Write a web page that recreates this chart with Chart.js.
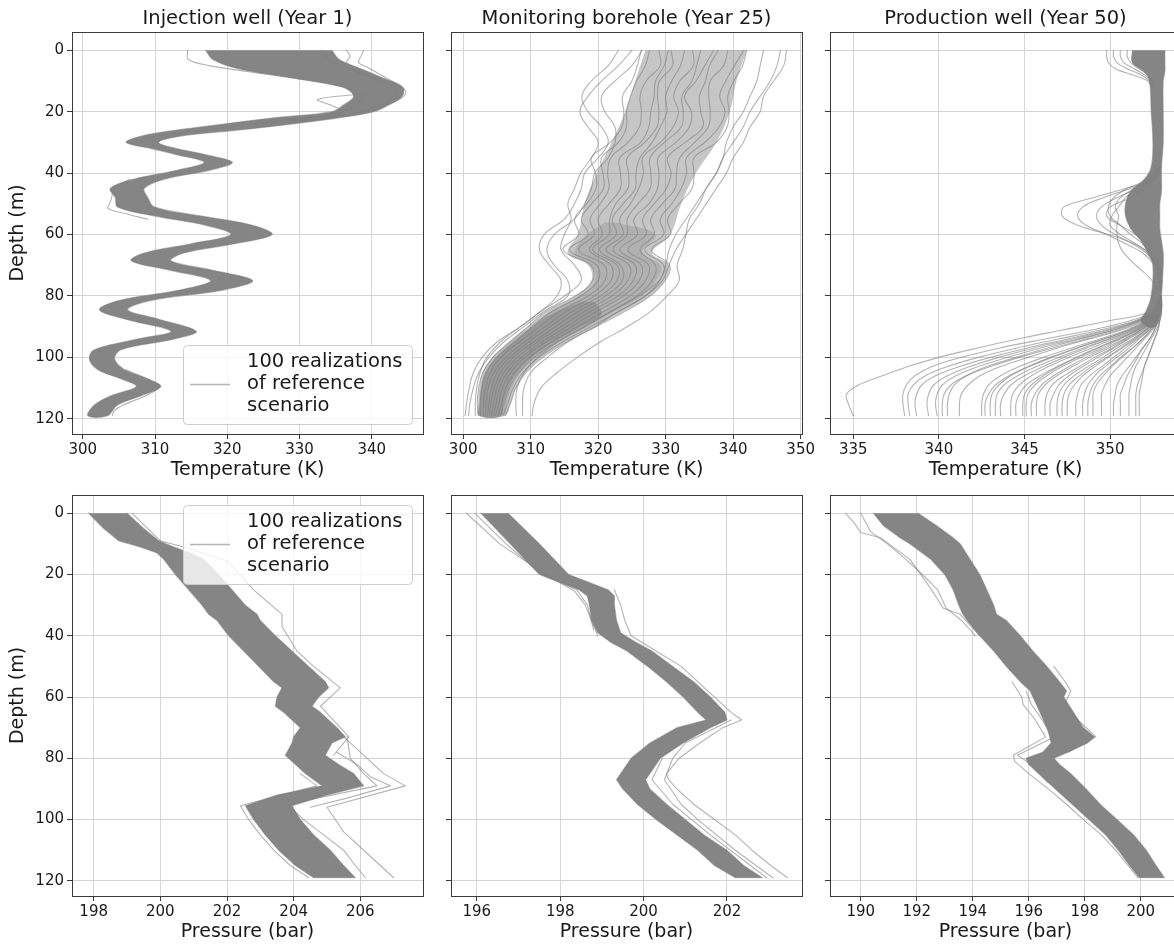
<!DOCTYPE html>
<html>
<head>
<meta charset="utf-8">
<script src="https://cdn.jsdelivr.net/npm/chart.js@4.4.1/dist/chart.umd.min.js"></script>
<style>
  html, body { margin: 0; padding: 0; background: #fff; overflow: hidden; }
  #fig { position: relative; width: 1174px; height: 945px; overflow: hidden; background: #fff; }
  #fig canvas { position: absolute; }
</style>
</head>
<body>
<div id="fig">
  <canvas id="tInj"></canvas>
  <canvas id="tMon"></canvas>
  <canvas id="tProd"></canvas>
  <canvas id="pInj"></canvas>
  <canvas id="pMon"></canvas>
  <canvas id="pProd"></canvas>
</div>
<script>
// ---------- tick labels ----------
const depthTicks = [0, 20, 40, 60, 80, 100, 120];
const tempTicksInj = [300, 310, 320, 330, 340];
const tempTicksMon = [300, 310, 320, 330, 340, 350];
const tempTicksProd = [335, 340, 345, 350];
const presTicksInj = [198, 200, 202, 204, 206];
const presTicksMon = [196, 198, 200, 202];
const presTicksProd = [190, 192, 194, 196, 198, 200];
const legendText = ['100 realizations', 'of reference', 'scenario'];

// ---------- injection well, temperature (year 1) ----------
// dense band of the realizations: depth, left edge, right edge
const bandDepthT1 = [0, 3, 6, 9, 12, 15, 18, 20, 22, 24, 26, 28, 30, 32, 34, 36.5, 39, 42, 45, 48, 51, 54, 57, 60, 63, 66, 68.5, 71.5, 75, 78, 81.5, 84.5, 87.5, 91.5, 94, 97.5, 100.5, 104, 107, 109.5, 112.5, 115.5, 119];
const bandLeftT1 = [317, 318, 321.5, 329, 336, 337.5, 336, 334.5, 326.5, 319.5, 313, 308, 306, 309.5, 313, 316.8, 313.2, 307, 303.8, 304.5, 304.8, 310, 317, 320.5, 315, 308.5, 306.7, 311.8, 317.7, 313.6, 305, 302.3, 305.8, 312.2, 307.6, 301.6, 300.9, 302.1, 305.3, 307.4, 303.9, 301.6, 300.7];
const bandRightT1 = [334.5, 335.5, 338.5, 341.5, 344.3, 344.2, 342.2, 340.3, 335.5, 329, 321.5, 313.5, 310.5, 313, 317, 320.7, 317.7, 311.3, 308.5, 309, 309.9, 316.5, 323.5, 326.2, 321, 314, 312.2, 317.7, 323.5, 319.6, 309.4, 306.2, 310.4, 315.7, 312.7, 305.3, 304.4, 305.8, 309, 310.8, 308.1, 304.8, 303.4];
// single realizations that leave the band
const strandDepthT1a = [0, 3, 5, 7, 9, 11, 13, 16, 19, 21, 23, 25, 27, 29, 31];
const strandT1a = [314.5, 314.6, 317.5, 323, 329, 334, 337.5, 338.5, 337, 334, 327, 320, 313, 308.5, 307.5];
const strandDepthT1b = [0, 2, 4, 6, 9, 12, 14, 16, 18, 20, 22, 24];
const strandT1b = [338.9, 338.5, 338.2, 339.8, 342, 344.2, 344.7, 343.8, 341.8, 339, 334, 327];
const strandDepthT1c = [0, 3, 6, 9, 12, 14, 16, 18, 20, 22, 24];
const strandT1c = [333, 334, 337, 340, 341.5, 339, 332.5, 334.5, 336, 331, 324];
const strandDepthT1d = [0, 2, 4, 7, 10, 13, 16, 19, 21, 23];
const strandT1d = [336.5, 337, 336.5, 338, 341.5, 343.5, 342.5, 340, 336.5, 329];
const strandDepthT1e = [104, 107, 109.5, 112.5, 115.5, 117.5, 119];
const strandT1e = [306, 308.8, 310.6, 308.7, 305.6, 304.3, 304.1];
const strandDepthT1f = [42, 45, 48, 50, 51.5, 53, 55];
const strandT1f = [306.5, 304.3, 304, 303.7, 303.5, 305.5, 309];

// ---------- monitoring borehole, temperature (year 25) ----------
const coreDepthT2 = [0, 10, 20, 30, 40, 50, 60, 66, 70, 75, 80, 85, 90, 95, 100, 105, 110, 115, 119];
const coreLeftT2 = [327, 325.5, 324, 322, 319.8, 318, 317, 315.5, 318.5, 319, 316.6, 312.5, 309.6, 306.8, 304.3, 302.9, 302.4, 302.2, 302.3];
const coreRightT2 = [342, 340.5, 339.5, 337.5, 334.5, 332.3, 330.7, 328, 330.5, 329.8, 327.6, 323.8, 319.5, 315.2, 311.7, 309.2, 307.8, 307, 306.2];
const midDepthT2 = [56, 60, 66, 70, 75, 80, 85, 90, 95, 100, 105, 110, 115, 119];
const midLeftT2 = [321, 318.5, 316.5, 319, 319.5, 317.2, 313, 310, 307.2, 304.7, 303.2, 302.6, 302.4, 302.4];
const midRightT2 = [322.5, 328.5, 326.5, 329.3, 328.6, 326.5, 322.5, 318.5, 314.2, 310.8, 308.5, 307.2, 306.5, 305.9];
const denseDepthT2 = [82, 86, 90, 95, 100, 105, 110, 115, 119];
const denseLeftT2 = [317.5, 313, 310.3, 307.5, 305, 303.4, 302.7, 302.5, 302.5];
const denseRightT2 = [319.5, 320.5, 317.5, 313.5, 310.2, 308, 306.7, 306, 305.6];
const strandDepthT2 = [0, 5, 10, 15, 20, 25, 30, 35, 40, 45, 50, 55, 60, 65, 70, 75, 80, 85, 90, 95, 100, 105, 110, 115, 119];
const strandT2a = [326.4, 325.8, 325, 323.6, 323.8, 323.5, 321.8, 319, 319.6, 319.7, 318.3, 316.5, 317.1, 314.8, 318.9, 319.2, 316.6, 312.3, 309.6, 306.9, 304.4, 302.9, 302.3, 302.1, 302.3];
const strandT2b = [327.6, 327, 325.7, 324.8, 324.2, 324.2, 323, 320.5, 320.7, 320.8, 319, 317.5, 318.5, 315.8, 319.8, 320, 317.4, 313.2, 310.3, 307.6, 305, 303.4, 302.8, 302.5, 302.6];
const strandT2c = [329, 329.2, 327.1, 326.2, 326.4, 326.1, 324.4, 321.9, 321.4, 321.6, 320.3, 318.8, 319.4, 317.1, 320.9, 321, 318.5, 314.3, 311.3, 308.3, 305.6, 304, 303.3, 303, 303];
const strandT2d = [330.4, 329.8, 328.5, 328.3, 327.8, 327.5, 326.3, 323.2, 323.3, 323.3, 321.6, 320, 320.6, 318.7, 321.9, 321.9, 319.4, 315.3, 312.2, 309.1, 306.3, 304.5, 303.7, 303.4, 303.3];
const strandT2e = [330.8, 331, 329.1, 328.8, 329, 328.7, 326.9, 324.3, 324.5, 324.4, 322.6, 321.7, 321.6, 319.2, 322.8, 322.8, 320.3, 316.2, 312.9, 309.7, 306.9, 305, 304.2, 303.8, 303.6];
const strandT2f = [332.8, 332.2, 330.9, 330, 330.2, 329.2, 328, 326.2, 325.6, 325.5, 323.7, 322.1, 322.7, 320.2, 323.3, 323.6, 321.1, 317.1, 313.7, 310.4, 307.4, 305.5, 304.6, 304.1, 303.9];
const strandT2g = [334, 334.1, 332.1, 331.2, 331.9, 331.1, 329.2, 326.6, 326.7, 326, 324.8, 323.2, 323.7, 321.2, 324.6, 324.4, 322, 318, 314.5, 311, 308, 306, 305, 304.5, 304.2];
const strandT2h = [335.2, 334.6, 333.9, 332.4, 332.6, 332.3, 329.8, 327.7, 327.8, 327.7, 325.9, 324.3, 324.3, 322.2, 325.5, 325.2, 322.9, 318.9, 315.3, 311.7, 308.6, 306.5, 305.4, 304.9, 304.5];
const strandT2i = [337.1, 335.8, 334.5, 332.8, 333.8, 333.5, 331.5, 328.9, 329, 328.8, 327.5, 325.3, 325.8, 323.2, 326.4, 326.1, 323.7, 319.8, 316.1, 312.3, 309.1, 307, 305.8, 305.3, 304.8];
const strandT2j = [337.8, 336.5, 335.9, 335, 335.2, 335.5, 332.9, 330.3, 330.8, 330.1, 328.3, 326.6, 327.1, 324.4, 327.5, 327, 324.7, 320.9, 317, 313.1, 309.8, 307.6, 306.3, 305.7, 305.2];
const strandT2k = [339.2, 338.6, 336.6, 336.4, 336.6, 336.3, 334.3, 332.1, 331.6, 331.4, 329.5, 327.8, 328.3, 326.2, 328.5, 328, 325.7, 321.9, 317.9, 313.8, 310.5, 308.2, 306.8, 306.1, 305.5];
const strandT2l = [341.6, 340.2, 338.9, 338, 338.8, 337.9, 335.8, 333.1, 333.1, 332.3, 330.9, 329.2, 329.7, 326.9, 329.7, 329.1, 326.9, 323.1, 318.9, 314.7, 311.2, 308.8, 307.4, 306.6, 305.9];
const strandT2m = [342, 341.4, 340.1, 339.2, 339.4, 339.1, 337.5, 334.2, 334.2, 333.9, 332, 330.3, 330.7, 327.9, 330.6, 329.9, 327.7, 324, 319.7, 315.3, 311.8, 309.3, 307.8, 307, 306.2];
// realizations outside the main bundle
const strandT2n = [323, 321.5, 319, 317.6, 318.5, 320.5, 321.5, 320, 318, 317.5, 316.5, 315, 312, 311.3, 312.8, 314.5, 313.9, 311.5, 308.5, 305, 302.8, 301.5, 300.9, 300.5, 300.3];
const strandT2o = [326.5, 325, 322.5, 320.5, 321, 322.5, 322.5, 321.5, 319.5, 319, 318, 316.5, 313.5, 312.4, 313.5, 315.5, 315.5, 312, 309, 306, 303.8, 302.3, 301.5, 301, 300.8];
const strandT2p = [344.5, 344, 343.5, 342.5, 341.5, 340, 339, 338.5, 337.5, 336, 335, 333.5, 333, 332.5, 331.7, 332, 330.2, 327.8, 324.3, 320.3, 316.9, 313.9, 311.5, 310.5, 310.2];
const strandT2q = [347.9, 347.5, 346, 344.5, 344, 342.5, 341.5, 340, 339, 337.5, 336, 334.5, 333, 331.5, 330.5, 329.5, 327, 323, 319.5, 315.5, 312.5, 310, 309, 308.8, 308.8];
const strandT2r = [347, 346.5, 345.5, 344, 342.5, 341.5, 340, 338.5, 337.5, 336, 334.5, 333, 331.5, 330.5, 330, 329, 326, 322, 318, 314, 311, 309, 308, 307.8, 307.9];
const strandT2s = [325, 323, 320.5, 318.5, 317.3, 318.5, 320, 319, 317.4, 316.5, 315.5, 316, 315, 314.5, 316.5, 317.5, 315, 311.5, 308.5, 305.5, 303.5, 302.5, 302, 301.8, 301.8];

// ---------- production well, temperature (year 50) ----------
const bandDepthT3 = [0, 4, 7, 10, 20, 30, 38, 42, 46, 50, 54, 58, 62, 66, 70, 80, 85, 88, 90];
const bandLeftT3 = [351.3, 351.3, 352, 352.3, 352.4, 352.5, 352.4, 352, 351.2, 350.9, 350.9, 351.2, 351.8, 352.2, 352.5, 352.4, 352.1, 351.8, 352.2];
const bandRightT3 = [353.2, 353.2, 353.2, 353.1, 353.1, 353.1, 353, 353, 353, 352.9, 352.9, 352.9, 353, 353.1, 353.1, 353, 352.95, 352.85, 352.6];
const topDepthT3 = [0, 2, 4, 6, 8, 10, 12];
const topT3a = [349.8, 349.8, 349.9, 350.3, 351.3, 352.2, 352.4];
const topT3b = [350.2, 350.2, 350.4, 351, 351.8, 352.3, 352.5];
const topT3c = [350.6, 350.6, 350.8, 351.4, 352, 352.4, 352.5];
const topT3d = [351, 351, 351.2, 351.7, 352.2, 352.5, 352.6];
const bulgeDepthT3 = [38, 42, 45, 48, 51, 54, 57, 60, 63, 66, 70, 74, 78];
const bulgeT3a = [353, 352.6, 350.9, 349, 347.3, 347.2, 348.1, 349.9, 351.4, 352.3, 352.9, 353, 353];
const bulgeT3b = [352.9, 352.4, 351.2, 349.6, 348.4, 348.1, 348.6, 349.8, 350.9, 351.9, 352.6, 352.9, 352.9];
const bulgeT3c = [352.9, 352.5, 351.6, 350.4, 349.5, 349.2, 349.5, 350.3, 351.3, 352.1, 352.7, 352.9, 352.9];
const bulgeT3d = [352.8, 352.3, 351.4, 350.6, 350.3, 350.5, 350.4, 350.4, 350.5, 350.8, 351.5, 352.3, 352.8];
const bulgeT3e = [352.9, 352.6, 352, 351.2, 350, 349.8, 350.6, 351.5, 352.2, 352.6, 352.9, 353, 353];
const bulgeT3f = [352.8, 352.2, 351, 350.2, 349.9, 350, 350.6, 351.2, 351.9, 352.4, 352.8, 353, 353];
const bulgeT3g = [352.9, 352.4, 351.5, 350.9, 350.5, 350.1, 350, 350.6, 351.5, 352.2, 352.7, 352.9, 353];
const tailDepthT3 = [80, 85, 88, 91, 94, 97, 100, 103, 106, 109, 112, 115, 119];
const tailT3a = [352.9, 352.4, 350, 347.3, 344.6, 342.2, 340, 338.2, 336.7, 335.3, 334.6, 334.7, 335];
const tailT3b = [352.9, 352.6, 351.5, 349.5, 347, 344.5, 342.3, 340.5, 339.2, 338.5, 338.2, 338.2, 338.3];
const tailT3c = [352.9, 352.6, 351.6, 349.8, 347.5, 345.1, 343, 341.2, 339.8, 339, 338.7, 338.6, 338.7];
const tailT3d = [352.9, 352.7, 351.7, 350, 347.8, 345.5, 343.5, 341.8, 340.5, 339.7, 339.4, 339.3, 339.4];
const tailT3e = [353, 352.7, 351.8, 350.3, 348.3, 346.3, 344.5, 342.8, 341.6, 340.9, 340.6, 340.5, 340.5];
const tailT3f = [353, 352.7, 352, 350.7, 348.8, 346.9, 345.2, 343.6, 342.4, 341.7, 341.3, 341.2, 341.2];
const tailT3g = [353, 352.8, 352.2, 351.2, 349.6, 348, 346.5, 345.2, 344.1, 343.3, 342.9, 342.7, 342.7];
const tailT3h = [353, 352.8, 352.3, 351.4, 350, 348.6, 347.3, 346.1, 345, 344.2, 343.8, 343.6, 343.6];
const tailT3i = [353, 352.8, 352.4, 351.6, 350.4, 349.2, 348, 346.9, 345.9, 345.1, 344.7, 344.5, 344.5];
const tailT3j = [353, 352.9, 352.5, 351.8, 350.8, 349.7, 348.6, 347.6, 346.7, 346, 345.6, 345.4, 345.4];
const tailT3k = [353, 352.9, 352.6, 352, 351.1, 350.2, 349.3, 348.4, 347.6, 347, 346.7, 346.5, 346.5];
const tailT3l = [353, 352.9, 352.7, 352.2, 351.5, 350.7, 349.9, 349.1, 348.4, 347.9, 347.6, 347.5, 347.5];
const tailT3m = [353, 352.9, 352.8, 352.4, 351.9, 351.3, 350.6, 350, 349.4, 349, 348.8, 348.7, 348.7];
const tailT3n = [353, 352.9, 352.8, 352.6, 352.3, 351.9, 351.5, 351.1, 350.7, 350.4, 350.3, 350.2, 350.2];
const tailT3o = [353, 353, 352.9, 352.8, 352.6, 352.4, 352.2, 352, 351.8, 351.6, 351.5, 351.5, 351.5];
const tailT3p = [352.9, 352.5, 351.2, 349, 346.2, 343.5, 341.3, 339.6, 338.6, 338.1, 337.9, 337.9, 338];
const tailT3q = [352.9, 352.6, 351.7, 350.2, 348.1, 345.9, 344, 342.3, 341, 340.2, 339.9, 339.8, 339.9];
const tailT3r = [353, 352.7, 351.9, 350.5, 348.6, 346.6, 344.7, 343, 341.6, 340.7, 340.3, 340.2, 340.2];
const tailT3s = [353, 352.8, 352.1, 351, 349.4, 347.7, 346.1, 344.7, 343.6, 342.9, 342.6, 342.5, 342.5];
const tailT3t = [353, 352.8, 352.2, 351.1, 349.7, 348.1, 346.6, 345.3, 344.2, 343.5, 343.1, 343, 343];
const tailT3u = [353, 352.8, 352.3, 351.3, 349.9, 348.4, 347, 345.7, 344.6, 343.8, 343.4, 343.3, 343.3];
const tailT3v = [353, 352.8, 352.3, 351.5, 350.2, 348.9, 347.6, 346.4, 345.4, 344.7, 344.3, 344.2, 344.2];
const tailT3w = [353, 352.9, 352.4, 351.6, 350.5, 349.3, 348.1, 347, 346.1, 345.4, 345, 344.9, 344.9];
const tailT3x = [353, 352.9, 352.5, 351.7, 350.6, 349.5, 348.3, 347.2, 346.3, 345.6, 345.2, 345.1, 345.1];
const tailT3y = [353, 352.9, 352.5, 351.8, 350.9, 349.9, 348.8, 347.8, 346.9, 346.2, 345.8, 345.7, 345.7];
const tailT3z = [353, 352.9, 352.6, 351.9, 351, 350.1, 349.1, 348.2, 347.3, 346.6, 346.3, 346.2, 346.2];
const tailT3aa = [353, 352.9, 352.6, 352.1, 351.3, 350.4, 349.6, 348.7, 347.9, 347.3, 347, 346.9, 346.9];
const tailT3ab = [353, 352.9, 352.7, 352.1, 351.4, 350.6, 349.8, 348.9, 348.2, 347.6, 347.3, 347.2, 347.2];
const tailT3ac = [353, 352.9, 352.7, 352.3, 351.6, 350.9, 350.2, 349.5, 348.8, 348.3, 348.1, 348, 348];
const tailT3ad = [353, 352.9, 352.7, 352.3, 351.7, 351.1, 350.4, 349.7, 349.1, 348.7, 348.5, 348.4, 348.4];
const tailT3ae = [353, 352.9, 352.8, 352.4, 351.9, 351.3, 350.7, 350.1, 349.6, 349.2, 349, 349, 349];
const tailT3af = [353, 352.9, 352.8, 352.5, 352, 351.5, 351, 350.5, 350, 349.7, 349.5, 349.5, 349.5];
const tailT3ag = [353, 353, 352.8, 352.6, 352.3, 351.9, 351.6, 351.3, 351, 350.8, 350.6, 350.6, 350.6];
const tailT3ah = [353, 353, 352.9, 352.7, 352.4, 352.1, 351.8, 351.5, 351.3, 351.2, 351.1, 351.1, 351.1];
const tailT3ai = [353, 353, 352.9, 352.8, 352.6, 352.4, 352.2, 352, 351.9, 351.8, 351.7, 351.7, 351.7];

// ---------- injection well, pressure ----------
const bandDepthP1 = [0, 5, 9, 11, 13, 15, 20, 25, 30, 33, 35, 40, 45, 50, 55, 57, 60, 63, 65, 70, 73, 75, 79, 82, 85, 89, 92, 95.5, 100, 105, 110, 115, 119];
const bandLeftP1 = [197.85, 198.3, 198.75, 199.4, 199.9, 200.1, 200.45, 200.85, 201.25, 201.45, 201.7, 202.05, 202.5, 202.95, 203.4, 203.65, 203.5, 203.45, 203.7, 204.2, 204, 203.95, 203.75, 204.05, 204.35, 204.85, 203.5, 202.55, 202.8, 203.15, 203.55, 204.05, 204.6];
const bandRightP1 = [199, 199.5, 199.95, 200.4, 200.9, 201.3, 201.75, 202.15, 202.55, 202.9, 203, 203.45, 203.95, 204.45, 204.95, 205.05, 204.75, 204.55, 204.8, 205.3, 205.55, 205.15, 204.95, 205.35, 205.8, 206.1, 205, 203.95, 204.2, 204.6, 205.1, 205.5, 205.85];
const strandDepthP1a = [73, 78, 82, 85, 89, 96, 104, 111, 119];
const strandP1a = [205.5, 206, 206.4, 206.7, 207.35, 205, 205.5, 206.2, 207];
const strandDepthP1b = [73, 80, 85, 89, 95, 100, 105, 110, 115, 119];
const strandP1b = [205.6, 205.7, 206.1, 206.5, 203.8, 204.3, 204.9, 205.5, 205.85, 206.15];
const strandDepthP1c = [0, 9, 11, 15.5, 25, 33, 37, 45, 50, 57, 60, 63, 70, 73, 79];
const strandP1c = [199.15, 200, 200.7, 202, 202.8, 203.65, 203.65, 204.1, 204.6, 205.4, 205.1, 204.8, 205.4, 205.65, 205.2];
const strandDepthP1d = [85, 89, 95.5, 100, 105, 110, 115, 119];
const strandP1d = [204.2, 204.7, 202.4, 202.65, 203, 203.4, 203.9, 204.45];
const strandDepthP1e = [78, 82, 86, 89, 93, 96];
const strandP1e = [205.3, 205.9, 206.3, 206.9, 205.6, 204.5];

// ---------- monitoring borehole, pressure ----------
const bandDepthP2 = [0, 10, 20, 25, 27, 30, 35, 39, 42, 45, 50, 55, 60, 65, 67.5, 70, 75, 80, 87, 90, 95, 100, 105, 110, 115, 119];
const bandLeftP2 = [196.1, 196.8, 197.5, 198.45, 198.65, 198.7, 198.75, 198.9, 199.2, 199.6, 200.1, 200.55, 200.95, 201.3, 201.5, 200.8, 200.15, 199.7, 199.35, 199.5, 199.85, 200.3, 200.8, 201.3, 201.7, 202.2];
const bandRightP2 = [196.75, 197.5, 198.2, 199.15, 199.3, 199.3, 199.35, 199.45, 199.8, 200.2, 200.7, 201.2, 201.6, 201.95, 202, 201.6, 200.95, 200.4, 200.05, 200.15, 200.55, 201, 201.45, 202, 202.4, 202.85];
const strandDepthP2a = [0, 10, 20, 25.5, 30, 35, 40];
const strandP2a = [195.75, 196.55, 197.65, 198.35, 198.6, 198.75, 198.9];
const strandDepthP2b = [0, 10, 20, 25, 30, 38];
const strandP2b = [195.95, 196.7, 197.55, 198.4, 198.65, 198.8];
const strandDepthP2c = [25, 30, 35, 40, 45, 50, 55, 60, 65, 67.5, 70, 75, 80, 85, 87, 90, 95, 100, 105, 110, 115, 119];
const strandP2c = [199.3, 199.45, 199.55, 199.7, 200.3, 200.9, 201.3, 201.7, 202.1, 202.35, 201.9, 201.35, 200.85, 200.55, 200.6, 200.8, 201.2, 201.7, 202.2, 202.6, 203.05, 203.45];
const strandDepthP2d = [67.5, 75, 80, 87, 95, 100, 110, 119];
const strandP2d = [202.1, 201, 200.7, 200.5, 200.9, 201.3, 202.2, 203.1];
const strandDepthP2e = [80, 87, 95, 105, 119];
const strandP2e = [200.45, 200.2, 200.7, 201.6, 202.95];

// ---------- production well, pressure ----------
const bandDepthP3 = [0, 4, 8, 10, 15, 20, 25, 30, 33, 35, 40, 45, 50, 55, 58, 60, 65, 70, 73, 75, 78, 80, 82, 85, 90, 95, 100, 105, 110, 115, 119];
const bandLeftP3 = [190.45, 190.8, 191.4, 191.75, 192.5, 193, 193.3, 193.5, 193.65, 193.8, 194.25, 194.75, 195.2, 195.7, 196.05, 196.15, 196.4, 196.65, 196.75, 196.8, 196.5, 195.9, 196, 196.35, 196.95, 197.55, 198.15, 198.75, 199.2, 199.6, 199.95];
const bandRightP3 = [192.05, 192.7, 193.3, 193.55, 193.9, 194.25, 194.5, 194.75, 194.85, 195.2, 195.7, 196.15, 196.65, 197.1, 197.35, 197.25, 197.6, 197.95, 198.35, 198.1, 197.4, 196.9, 197.1, 197.5, 198.05, 198.55, 199.15, 199.75, 200.2, 200.55, 200.85];
const strandDepthP3a = [0, 3, 6.3, 8, 15, 24.6, 31, 33, 40];
const strandP3a = [189.45, 189.75, 190, 190.7, 191.75, 192.5, 192.95, 193.55, 194.25];
const strandDepthP3b = [0, 6, 10, 15, 20, 25, 31, 35, 40];
const strandP3b = [190, 190.35, 190.95, 191.6, 192.2, 192.75, 193.05, 193.6, 194.1];
const strandDepthP3c = [55, 60, 62.5, 67, 73, 79, 81, 85, 90, 95, 100, 105, 110, 115, 119];
const strandP3c = [195.4, 195.75, 195.8, 196.2, 196.6, 195.45, 195.5, 196, 196.7, 197.35, 197.95, 198.6, 199.1, 199.55, 199.9];
const strandDepthP3d = [58, 62.5, 67, 73.3, 79, 82, 88];
const strandP3d = [195.9, 196.1, 196.45, 196.85, 195.6, 196.1, 196.7];
const strandDepthP3e = [50, 55, 58, 62, 67, 73, 78];
const strandP3e = [196.9, 197.3, 197.5, 197.3, 197.7, 198.4, 197.4];

// ---------- helpers ----------
const FONT = '"DejaVu Sans", "Liberation Sans", sans-serif';
const SPINE = '#3a3a3a';
const GRID = '#d4d4d4';
const TEXT = '#1a1a1a';
const STRAND = 'rgba(128,128,128,0.6)';
const BAND = 'rgb(133,133,133)';

// one realization drawn as a line (depth on y)
function strand(depths, values) {
    return {
        data: depths.map((d, i) => ({ x: values[i], y: d })),
        showLine: true,
        borderColor: STRAND,
        borderWidth: 1.1,
        fill: false
    };
}

// the dense part of the ensemble: left edge down, right edge back up, filled
function band(depths, left, right, color, edge) {
    const down = depths.map((d, i) => ({ x: left[i], y: d }));
    const up = depths.map((d, i) => ({ x: right[i], y: d })).reverse();
    return {
        data: down.concat(up),
        showLine: true,
        borderColor: edge === false ? 'rgba(0,0,0,0)' : 'rgba(128,128,128,0.5)',
        borderWidth: edge === false ? 0 : 1.2,
        backgroundColor: color,
        fill: 'shape'
    };
}

function drawLegend(ctx, area, where) {
    const w = 229, h = 79;
    const x = area.right - 11 - w;
    const y = where === 'lower right' ? area.bottom - 10 - h : area.top + 10;
    ctx.beginPath();
    ctx.roundRect(x + 0.5, y + 0.5, w, h, 4);
    ctx.fillStyle = 'rgba(255,255,255,0.8)';
    ctx.fill();
    ctx.strokeStyle = '#cccccc';
    ctx.lineWidth = 1;
    ctx.stroke();
    ctx.beginPath();
    ctx.moveTo(x + 7, y + 39.5);
    ctx.lineTo(x + 47, y + 39.5);
    ctx.strokeStyle = STRAND;
    ctx.lineWidth = 1.5;
    ctx.stroke();
    ctx.fillStyle = TEXT;
    ctx.font = '19.5px ' + FONT;
    ctx.textAlign = 'left';
    ctx.textBaseline = 'middle';
    legendText.forEach((t, i) => ctx.fillText(t, x + 64, y + 17 + i * 22));
}

// frame, panel title and legend
const panelDeco = {
    id: 'panelDeco',
    afterDraw(chart, args, opts) {
        const { ctx, chartArea: a } = chart;
        ctx.save();
        ctx.strokeStyle = SPINE;
        ctx.lineWidth = 1;
        ctx.strokeRect(Math.round(a.left) + 0.5, Math.round(a.top) + 0.5,
            Math.round(a.right - a.left), Math.round(a.bottom - a.top));
        if (opts.title) {
            ctx.fillStyle = TEXT;
            ctx.font = '19.5px ' + FONT;
            ctx.textAlign = 'center';
            ctx.textBaseline = 'middle';
            ctx.fillText(opts.title, (a.left + a.right) / 2, a.top - 13);
        }
        if (opts.legend) {
            drawLegend(ctx, a, opts.legend);
        }
        ctx.restore();
    }
};

function createPanel(id, box, cfg) {
    const canvas = document.getElementById(id);
    canvas.width = box.w;
    canvas.height = box.h;
    canvas.style.left = box.x + 'px';
    canvas.style.top = box.y + 'px';
    const leftPanel = cfg.depthLabel;

    return new Chart(canvas, {
        type: 'scatter',
        data: { datasets: cfg.datasets },
        plugins: [panelDeco],
        options: {
            responsive: false,
            animation: false,
            devicePixelRatio: 1,
            events: [],
            elements: {
                point: { radius: 0, hoverRadius: 0 },
                line: { tension: cfg.tension, borderCapStyle: 'round', borderJoinStyle: 'round' }
            },
            layout: { padding: { top: box.padTop, right: 20, left: 0, bottom: 0 } },
            plugins: {
                legend: { display: false },
                tooltip: { enabled: false },
                panelDeco: { title: cfg.title, legend: cfg.legend }
            },
            scales: {
                x: {
                    type: 'linear',
                    position: 'bottom',
                    min: cfg.xMin,
                    max: cfg.xMax,
                    afterBuildTicks: (s) => { s.ticks = cfg.xTicks.map(v => ({ value: v })); },
                    afterFit: (s) => { s.height = 48; },
                    grid: { color: GRID, lineWidth: 1, tickColor: SPINE, tickLength: 5, drawTicks: true },
                    border: { display: false },
                    ticks: {
                        color: TEXT, padding: 2, autoSkip: false, maxRotation: 0,
                        font: { family: FONT, size: 15 },
                        callback: (v) => String(v)
                    },
                    title: {
                        display: true, text: cfg.xLabel, color: TEXT,
                        font: { family: FONT, size: 19 },
                        padding: { top: 0, bottom: 1 }
                    }
                },
                y: {
                    type: 'linear',
                    position: 'left',
                    reverse: true,
                    min: -5.95,
                    max: 124.95,
                    afterBuildTicks: (s) => { s.ticks = depthTicks.map(v => ({ value: v })); },
                    afterFit: (s) => { s.width = box.axisW; },
                    grid: { color: GRID, lineWidth: 1, tickColor: SPINE, tickLength: 5, drawTicks: true },
                    border: { display: false },
                    ticks: {
                        color: TEXT, padding: 3,
                        font: { family: FONT, size: 15 },
                        callback: (v) => leftPanel ? String(v) : ''
                    },
                    title: {
                        display: leftPanel, text: 'Depth (m)', color: TEXT,
                        font: { family: FONT, size: 19 },
                        padding: { top: 7, bottom: 0 }
                    }
                }
            }
        }
    });
}

// top row: temperature
createPanel('tInj', { x: 0, y: 0, w: 443, h: 482, padTop: 32, axisW: 72 }, {
    title: 'Injection well (Year 1)', legend: 'lower right', depthLabel: true,
    xLabel: 'Temperature (K)', xMin: 298.5, xMax: 347.1, xTicks: tempTicksInj, tension: 0.35,
    datasets: [
        strand(strandDepthT1a, strandT1a),
        strand(strandDepthT1b, strandT1b),
        strand(strandDepthT1c, strandT1c),
        strand(strandDepthT1d, strandT1d),
        strand(strandDepthT1e, strandT1e),
        strand(strandDepthT1f, strandT1f),
        band(bandDepthT1, bandLeftT1, bandRightT1, BAND)
    ]
});

const monStrands = [strandT2a, strandT2b, strandT2c, strandT2d, strandT2e, strandT2f, strandT2g,
    strandT2h, strandT2i, strandT2j, strandT2k, strandT2l, strandT2m, strandT2n, strandT2o,
    strandT2p, strandT2q, strandT2r, strandT2s];
createPanel('tMon', { x: 431, y: 0, w: 391, h: 482, padTop: 32, axisW: 20 }, {
    title: 'Monitoring borehole (Year 25)', depthLabel: false,
    xLabel: 'Temperature (K)', xMin: 298.2, xMax: 350.2, xTicks: tempTicksMon, tension: 0.4,
    datasets: monStrands.map(s => strand(strandDepthT2, s)).concat([
        band(denseDepthT2, denseLeftT2, denseRightT2, 'rgba(128,128,128,0.5)', false),
        band(midDepthT2, midLeftT2, midRightT2, 'rgba(128,128,128,0.3)', false),
        band(coreDepthT2, coreLeftT2, coreRightT2, 'rgba(128,128,128,0.45)', false)
    ])
});

const prodTails = [tailT3a, tailT3b, tailT3c, tailT3d, tailT3e, tailT3f, tailT3g, tailT3h, tailT3i, tailT3j,
    tailT3k, tailT3l, tailT3m, tailT3n, tailT3o, tailT3p, tailT3q, tailT3r, tailT3s, tailT3t, tailT3u,
    tailT3v, tailT3w, tailT3x, tailT3y, tailT3z, tailT3aa, tailT3ab, tailT3ac, tailT3ad, tailT3ae,
    tailT3af, tailT3ag, tailT3ah, tailT3ai];
const prodBulges = [bulgeT3a, bulgeT3b, bulgeT3c, bulgeT3d, bulgeT3e, bulgeT3f, bulgeT3g];
const prodTops = [topT3a, topT3b, topT3c, topT3d];
createPanel('tProd', { x: 810, y: 0, w: 391, h: 482, padTop: 32, axisW: 20 }, {
    title: 'Production well (Year 50)', depthLabel: false,
    xLabel: 'Temperature (K)', xMin: 333.64, xMax: 354.14, xTicks: tempTicksProd, tension: 0.35,
    datasets: prodTops.map(s => strand(topDepthT3, s))
        .concat(prodBulges.map(s => strand(bulgeDepthT3, s)))
        .concat(prodTails.map(s => strand(tailDepthT3, s)))
        .concat([band(bandDepthT3, bandLeftT3, bandRightT3, BAND)])
});

// bottom row: pressure
createPanel('pInj', { x: 0, y: 483, w: 443, h: 461, padTop: 10, axisW: 72 }, {
    legend: 'upper right', depthLabel: true,
    xLabel: 'Pressure (bar)', xMin: 197.35, xMax: 207.88, xTicks: presTicksInj, tension: 0,
    datasets: [
        strand(strandDepthP1a, strandP1a),
        strand(strandDepthP1b, strandP1b),
        strand(strandDepthP1c, strandP1c),
        strand(strandDepthP1d, strandP1d),
        strand(strandDepthP1e, strandP1e),
        band(bandDepthP1, bandLeftP1, bandRightP1, BAND)
    ]
});

createPanel('pMon', { x: 431, y: 483, w: 391, h: 461, padTop: 10, axisW: 20 }, {
    depthLabel: false,
    xLabel: 'Pressure (bar)', xMin: 195.38, xMax: 203.8, xTicks: presTicksMon, tension: 0,
    datasets: [
        strand(strandDepthP2a, strandP2a),
        strand(strandDepthP2b, strandP2b),
        strand(strandDepthP2c, strandP2c),
        strand(strandDepthP2d, strandP2d),
        strand(strandDepthP2e, strandP2e),
        band(bandDepthP2, bandLeftP2, bandRightP2, BAND)
    ]
});

createPanel('pProd', { x: 810, y: 483, w: 391, h: 461, padTop: 10, axisW: 20 }, {
    depthLabel: false,
    xLabel: 'Pressure (bar)', xMin: 188.9, xMax: 201.44, xTicks: presTicksProd, tension: 0,
    datasets: [
        strand(strandDepthP3a, strandP3a),
        strand(strandDepthP3b, strandP3b),
        strand(strandDepthP3c, strandP3c),
        strand(strandDepthP3d, strandP3d),
        strand(strandDepthP3e, strandP3e),
        band(bandDepthP3, bandLeftP3, bandRightP3, BAND)
    ]
});
</script>
</body>
</html>
